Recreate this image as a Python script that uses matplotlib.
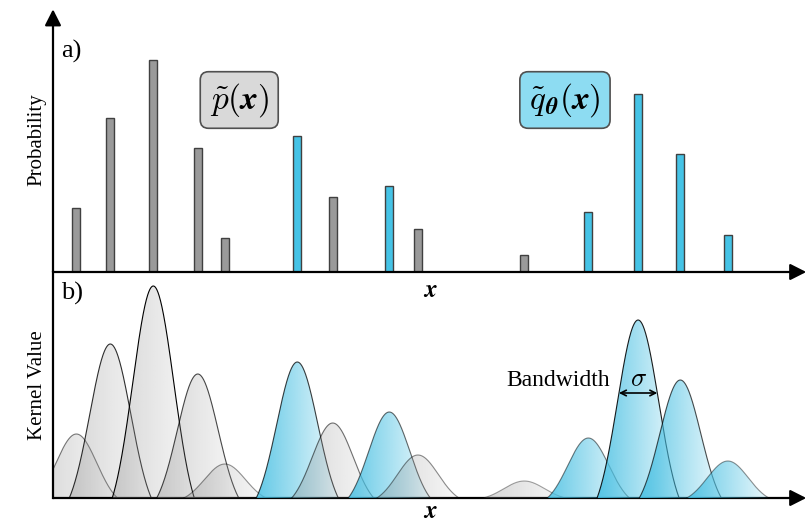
import numpy as np
import matplotlib.pyplot as plt
from matplotlib.patches import Polygon
from matplotlib.colors import to_rgb

plt.rcParams['font.family'] = 'serif'
plt.rcParams['font.serif'] = ['Liberation Serif', 'DejaVu Serif']
plt.rcParams['mathtext.fontset'] = 'cm'

# sample positions on the x axis and their probabilities
positions = [3.1, 7.6, 13.3, 19.2, 22.8, 32.4, 37.1, 44.6, 48.4, 62.5, 71.0, 77.6, 83.2, 89.5]
probs = [0.064, 0.154, 0.212, 0.124, 0.034, 0.136, 0.075, 0.086, 0.043, 0.017, 0.060, 0.178, 0.118, 0.037]
# 'p' = data distribution, 'q' = model distribution
source = ['p', 'p', 'p', 'p', 'p', 'q', 'p', 'q', 'p', 'p', 'q', 'q', 'q', 'q']

sigma = 2.72          # kernel bandwidth
bw_index = 11         # kernel used to show the bandwidth
bw_level = 0.105      # height of the bandwidth arrow

bar_color = {'p': '#9a9a9a', 'q': '#45c3e6'}
grad_color = {'p': ('#8c8c8c', 0.36, 0.06), 'q': ('#45bfe2', 0.85, 0.10)}


def kernel(xs, c, h):
    cut = np.exp(-2.0)
    g = np.exp(-(xs - c) ** 2 / (2 * sigma ** 2))
    return h * np.clip((g - cut) / (1 - cut), 0, None)


fig = plt.figure(figsize=(8.07, 5.22), dpi=100)
ax1 = fig.add_axes([53 / 807, 250 / 522, 754 / 807, 264 / 522])
ax2 = fig.add_axes([53 / 807, 24 / 522, 754 / 807, 226 / 522])

for ax in (ax1, ax2):
    for s in ax.spines.values():
        s.set_visible(False)
    ax.set_xticks([])
    ax.set_yticks([])
    ax.patch.set_alpha(0)

arrow = dict(arrowstyle='-|>,head_length=0.75,head_width=0.38', color='k', lw=1.6,
             shrinkA=0, shrinkB=0, mutation_scale=13)

# ---- a) probabilities
ax1.bar(positions, probs, width=1.05, color=[bar_color[s] for s in source],
        edgecolor='#404040', linewidth=1.0, zorder=2)
ax1.set_xlim(0, 100)
ax1.set_ylim(0, 0.264)
ax1.annotate('', xy=(0, 0.995), xytext=(0, 0), xycoords='axes fraction', arrowprops=arrow,
             annotation_clip=False)
ax1.annotate('', xy=(0.999, 0), xytext=(0, 0), xycoords='axes fraction', arrowprops=arrow,
             annotation_clip=False)

ax1.text(24.7, 0.172, r'$\tilde{p}(\boldsymbol{x})$', fontsize=24, ha='center', va='center',
         bbox=dict(boxstyle='round,pad=0.28,rounding_size=0.25', fc='#d9d9d9', ec='#505050', lw=1.2))
ax1.text(67.9, 0.172, r'$\tilde{q}_{\boldsymbol{\theta}}(\boldsymbol{x})$', fontsize=24,
         ha='center', va='center',
         bbox=dict(boxstyle='round,pad=0.28,rounding_size=0.25', fc='#8ddcf2', ec='#505050', lw=1.2))

ax1.text(0.011, 0.835, 'a)', fontsize=19, transform=ax1.transAxes, va='center')
ax1.text(-0.021, 0.5, 'Probability', fontsize=15, rotation=90, ha='center', va='center',
         transform=ax1.transAxes)
ax1.text(0.5, -0.072, r'$\boldsymbol{x}$', fontsize=18, ha='center', va='center',
         transform=ax1.transAxes)

# ---- b) kernels
hmax = max(probs)
order = np.argsort(positions)
for z, i in enumerate(order):
    c, h, s = positions[i], probs[i], source[i]
    xs = np.linspace(c - 2 * sigma, c + 2 * sigma, 300)
    ks = kernel(xs, c, h)
    base, a0, a1 = grad_color[s]
    grad = np.zeros((1, 256, 4))
    grad[..., :3] = to_rgb(base)
    grad[..., 3] = np.linspace(a0, a1, 256)
    im = ax2.imshow(grad, extent=[xs[0], xs[-1], 0, h], aspect='auto', origin='lower',
                    interpolation='bilinear', zorder=2 + z)
    patch = Polygon(np.column_stack([xs, ks]), closed=True, fc='none', ec='none')
    ax2.add_patch(patch)
    im.set_clip_path(patch)
    ax2.plot(xs, ks, color='k', lw=0.8, alpha=0.3 + 0.7 * h / hmax, zorder=2.5 + z)

ax2.set_xlim(0, 100)
ax2.set_ylim(0, 0.226)
ax2.plot([0, 0], [0, 1], color='k', lw=1.6, transform=ax2.transAxes, clip_on=False, zorder=40)
ax2.annotate('', xy=(0.999, 0), xytext=(0, 0), xycoords='axes fraction', arrowprops=arrow,
             annotation_clip=False)

# bandwidth marker
c, h = positions[bw_index], probs[bw_index]
cut = np.exp(-2.0)
d = sigma * np.sqrt(-2 * np.log(bw_level / h * (1 - cut) + cut))
ax2.annotate('', xy=(c - d, bw_level), xytext=(c + d, bw_level),
             arrowprops=dict(arrowstyle='<->', color='k', lw=1.2, shrinkA=0, shrinkB=0),
             zorder=50)
ax2.text(c, bw_level + 0.013, r'$\sigma$', fontsize=19, ha='center', va='center', zorder=50)
ax2.text(c - d - 1.2, bw_level + 0.012, 'Bandwidth', fontsize=17, ha='right', va='center', zorder=50)

ax2.text(0.011, 0.905, 'b)', fontsize=19, transform=ax2.transAxes, va='center')
ax2.text(-0.021, 0.5, 'Kernel Value', fontsize=15, rotation=90, ha='center', va='center',
         transform=ax2.transAxes)
ax2.text(0.5, -0.062, r'$\boldsymbol{x}$', fontsize=18, ha='center', va='center',
         transform=ax2.transAxes)

fig.savefig('out.png', dpi=100)
